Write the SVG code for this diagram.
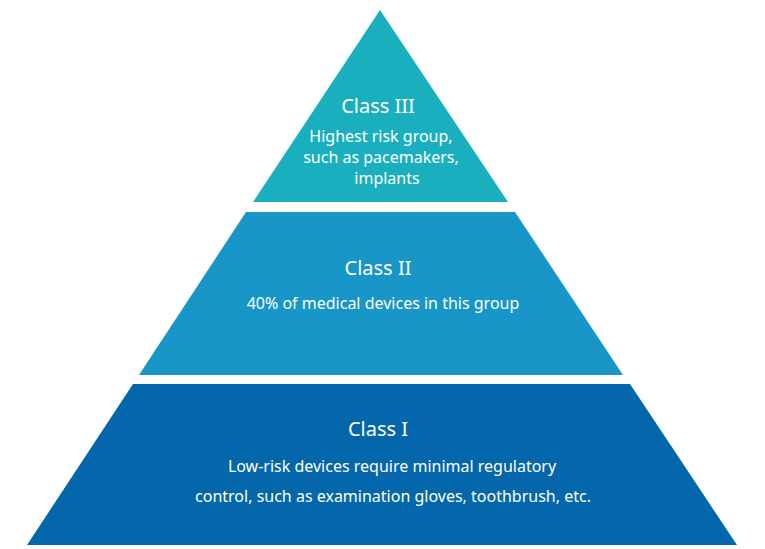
<svg xmlns="http://www.w3.org/2000/svg" width="765" height="549" viewBox="0 0 765 549">
<style>
text{font-family:"Noto Sans","Open Sans",sans-serif;fill:#fff;text-anchor:middle}
.t{font-size:20px}
.b{font-size:16px}
</style>
<rect width="765" height="549" fill="#fff"/>
<g id="class3">
<polygon points="380,10 508,202 253,202" fill="#1aafbf"/>
<text class="t" x="378" y="113">Class III</text>
<text class="b" x="381" y="142">Highest risk group,</text>
<text class="b" x="381" y="163">such as pacemakers,</text>
<text class="b" x="387" y="184">implants</text>
</g>
<g id="class2">
<polygon points="246,212 515,212 623,375 139,375" fill="#1896c8"/>
<text class="t" x="378" y="275">Class II</text>
<text class="b" x="383" y="309">40% of medical devices in this group</text>
</g>
<g id="class1">
<polygon points="133,384 630,384 737,545 27,545" fill="#0467ab"/>
<text class="t" x="378" y="436">Class I</text>
<text class="b" x="392" y="472">Low-risk devices require minimal regulatory</text>
<text class="b" x="393" y="502">control, such as examination gloves, toothbrush, etc.</text>
</g>
<g id="connectors"/>
</svg>
